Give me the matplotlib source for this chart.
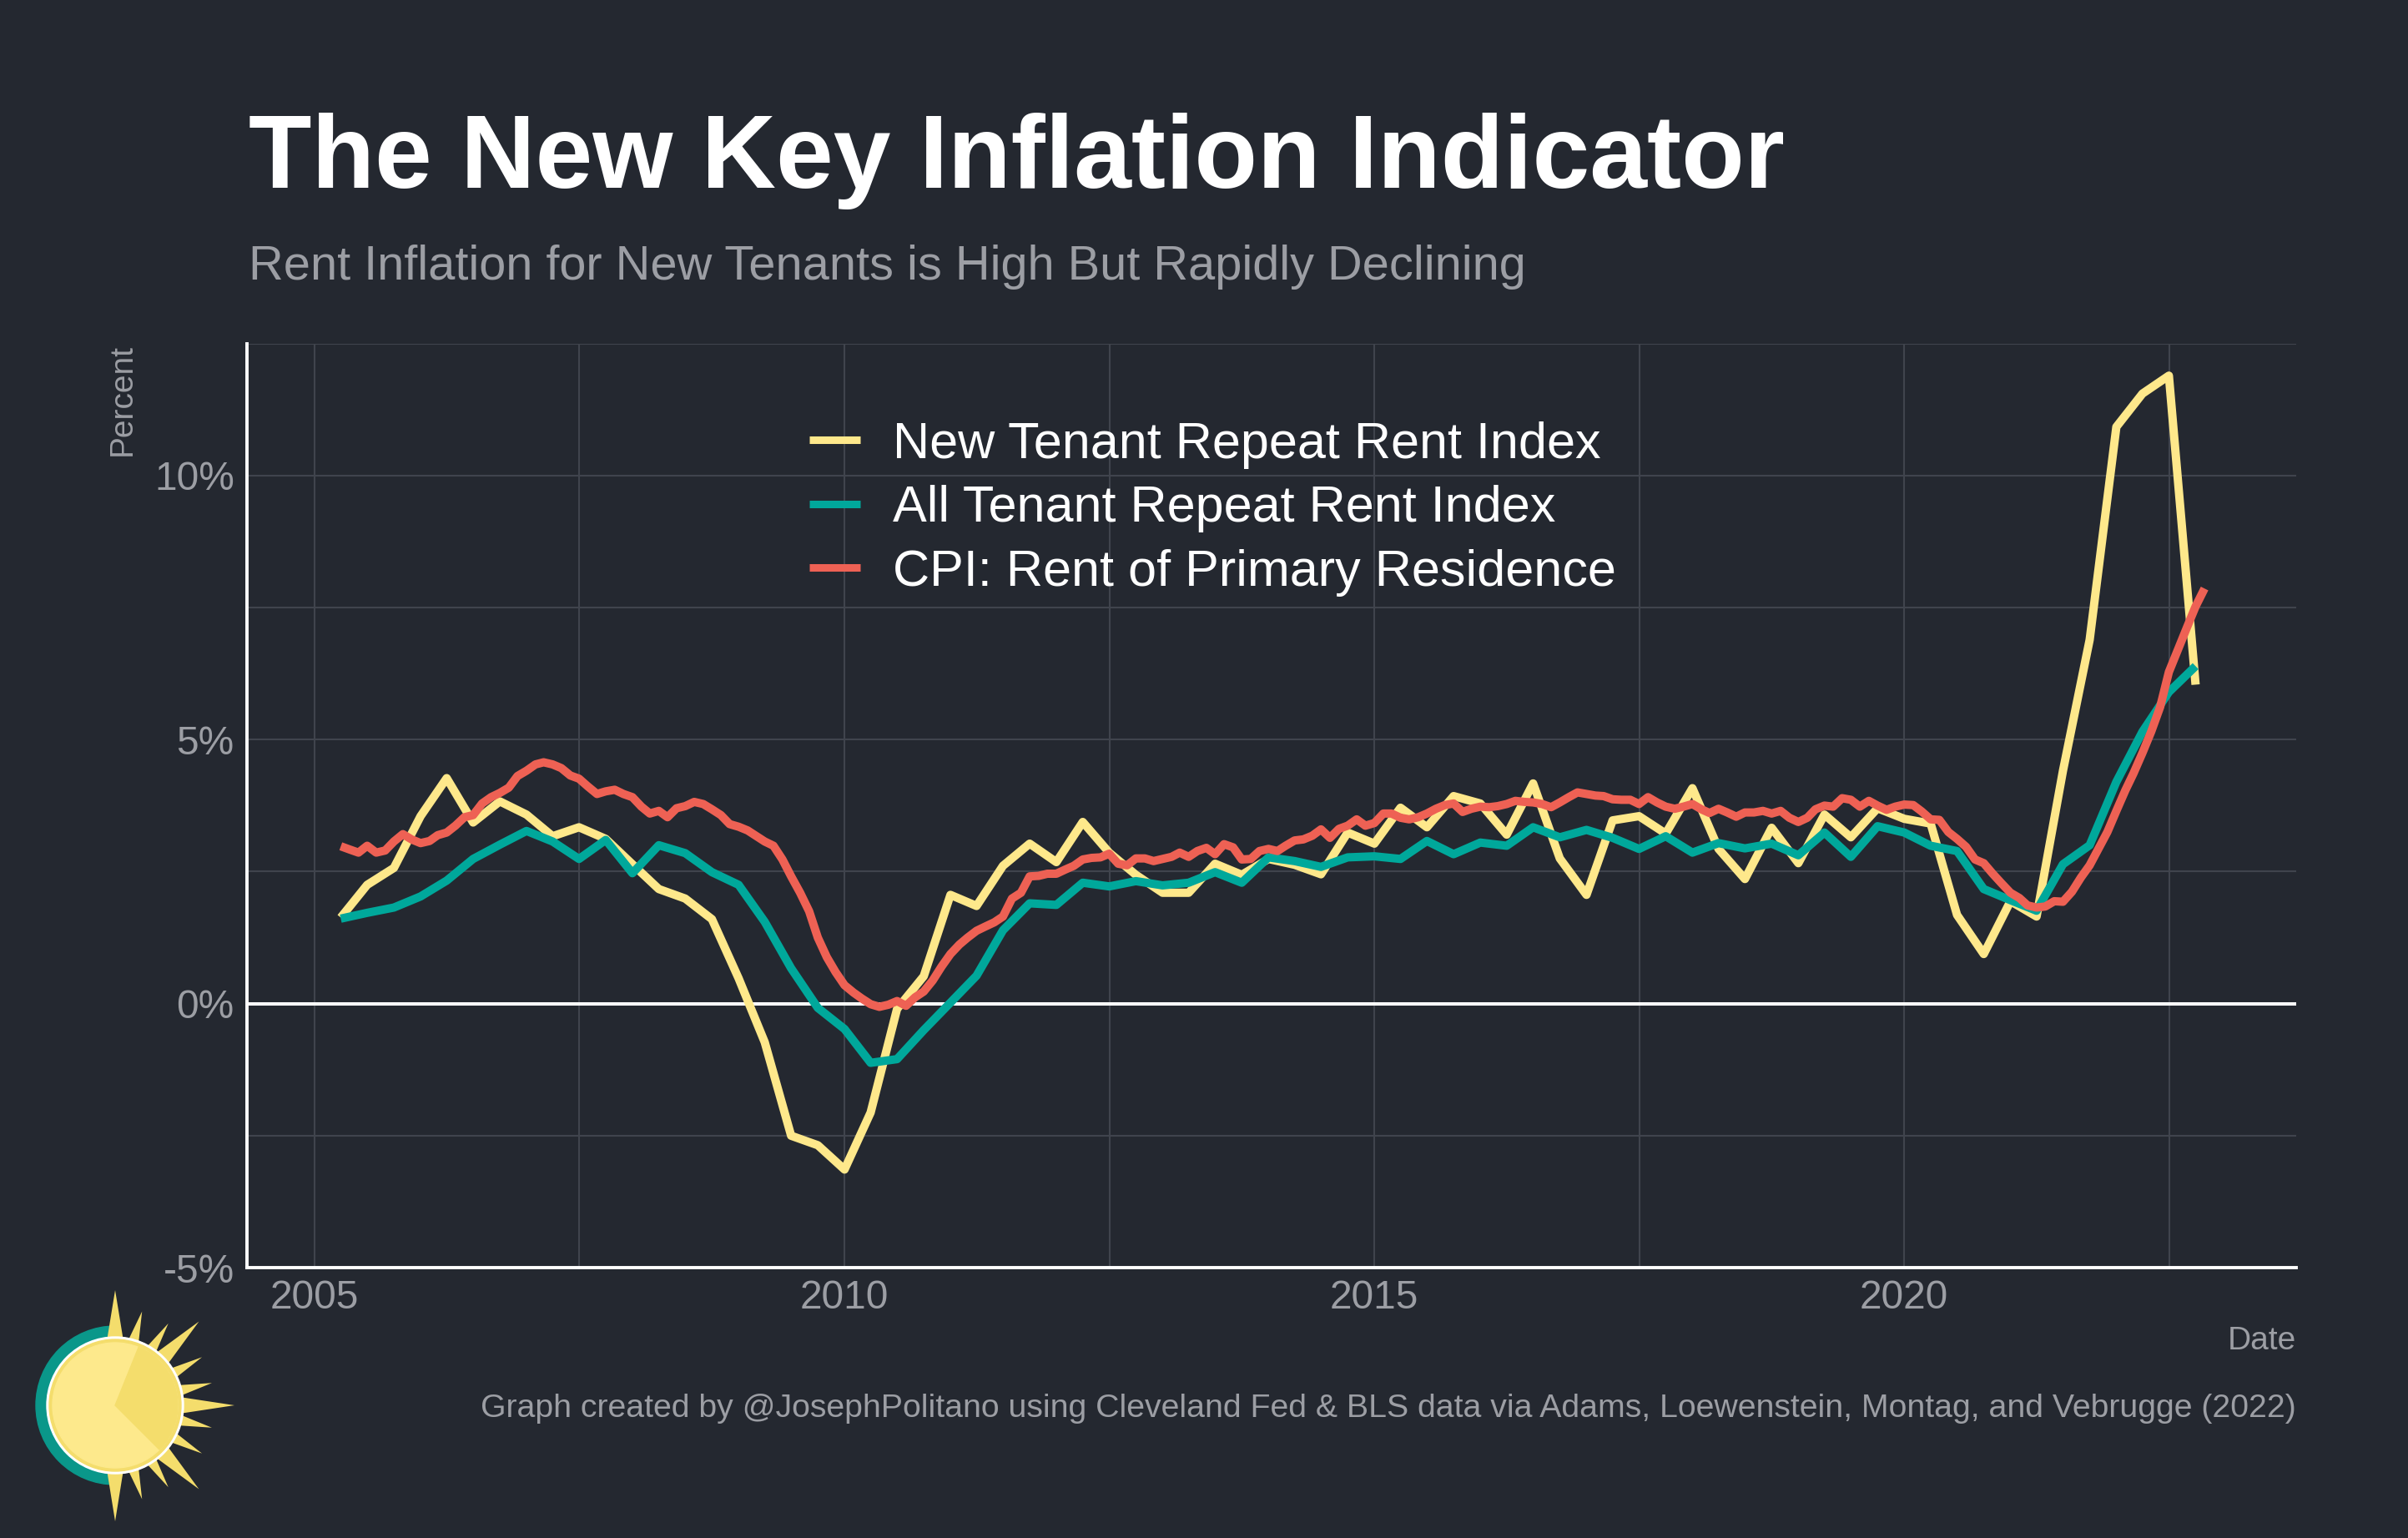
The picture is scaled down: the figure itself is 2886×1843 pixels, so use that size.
import numpy as np
import pandas as pd
import matplotlib
matplotlib.use('Agg')
import matplotlib.pyplot as plt
from matplotlib.patches import Circle, Wedge, Polygon

# quarterly series, Q2 2005 .. Q4 2022 (percent, y/y)
new_tenant = [1.63, 2.25, 2.57,
              3.55, 4.27, 3.43, 3.83,
              3.58, 3.17, 3.34, 3.12,
              2.64, 2.17, 1.99, 1.60,
              0.48, -0.73, -2.50, -2.68,
              -3.14, -2.06, -0.10, 0.52,
              2.06, 1.85, 2.61, 3.03,
              2.68, 3.44, 2.86, 2.44,
              2.10, 2.10, 2.65, 2.44,
              2.74, 2.63, 2.45, 3.24,
              3.03, 3.71, 3.34, 3.93,
              3.79, 3.20, 4.17, 2.75,
              2.06, 3.47, 3.55, 3.22,
              4.08, 2.93, 2.36, 3.33,
              2.66, 3.58, 3.15, 3.70,
              3.50, 3.41, 1.68, 0.94,
              1.94, 1.65, 4.41, 6.89,
              10.92, 11.55, 11.89, 6.04]

all_tenant = [1.61, 1.72, 1.82,
              2.03, 2.33, 2.74, 3.01,
              3.27, 3.07, 2.74, 3.10,
              2.47, 3.00, 2.85, 2.49,
              2.25, 1.55, 0.67, -0.08,
              -0.48, -1.12, -1.05, -0.50,
              0.02, 0.53, 1.39, 1.90,
              1.87, 2.29, 2.22, 2.32,
              2.24, 2.29, 2.49, 2.29,
              2.77, 2.70, 2.59, 2.77,
              2.79, 2.74, 3.08, 2.83,
              3.05, 2.99, 3.34, 3.15,
              3.29, 3.14, 2.93, 3.17,
              2.86, 3.04, 2.94, 3.03,
              2.81, 3.24, 2.78, 3.36,
              3.24, 2.99, 2.89, 2.17,
              1.96, 1.76, 2.64, 3.00,
              4.20, 5.15, 5.90, 6.39]

# monthly CPI rent of primary residence, Apr 2005 .. Nov 2022
cpi_rent = [2.98, 2.92, 2.86, 2.99, 2.86, 2.90, 3.07, 3.21, 3.11,
            3.04, 3.08, 3.19, 3.24, 3.37, 3.53, 3.57, 3.79, 3.91, 3.99, 4.09, 4.31,
            4.41, 4.53, 4.57, 4.53, 4.46, 4.32, 4.26, 4.11, 3.97, 4.02, 4.05, 3.97,
            3.91, 3.73, 3.60, 3.65, 3.53, 3.70, 3.74, 3.82, 3.78, 3.68, 3.57, 3.40,
            3.35, 3.28, 3.18, 3.07, 2.99, 2.73, 2.41, 2.10, 1.75, 1.25, 0.88, 0.60,
            0.35, 0.21, 0.10, -0.01, -0.06, -0.02, 0.05, -0.04, 0.12, 0.23, 0.44, 0.70,
            0.94, 1.12, 1.25, 1.38, 1.46, 1.54, 1.65, 1.99, 2.10, 2.41, 2.42, 2.46,
            2.46, 2.54, 2.61, 2.73, 2.76, 2.77, 2.84, 2.65, 2.62, 2.75, 2.75, 2.70,
            2.74, 2.78, 2.86, 2.78, 2.89, 2.95, 2.83, 3.02, 2.96, 2.73, 2.74, 2.89,
            2.93, 2.89, 2.99, 3.09, 3.11, 3.18, 3.30, 3.14, 3.31, 3.37, 3.49, 3.37,
            3.42, 3.60, 3.60, 3.52, 3.49, 3.53, 3.60, 3.69, 3.76, 3.79, 3.63, 3.69,
            3.73, 3.72, 3.74, 3.78, 3.84, 3.82, 3.81, 3.78, 3.72, 3.81, 3.91, 4.00,
            3.97, 3.94, 3.93, 3.87, 3.86, 3.86, 3.78, 3.91, 3.81, 3.73, 3.69, 3.73,
            3.78, 3.68, 3.61, 3.69, 3.62, 3.54, 3.62, 3.62, 3.65, 3.60, 3.65, 3.52,
            3.44, 3.52, 3.68, 3.75, 3.73, 3.89, 3.86, 3.73, 3.84, 3.75, 3.67, 3.73,
            3.77, 3.76, 3.64, 3.49, 3.48, 3.25, 3.12, 2.97, 2.73, 2.66, 2.46, 2.28,
            2.10, 2.00, 1.86, 1.82, 1.84, 1.94, 1.93, 2.12, 2.39, 2.62, 2.94, 3.25,
            3.65, 4.04, 4.36, 4.75, 5.15, 5.62, 6.28, 6.70, 7.12, 7.52, 7.86]

quarters = pd.date_range('2005-04-01', '2022-10-01', freq='QS')
months = pd.date_range('2005-04-01', '2022-11-01', freq='MS')

labels = ['New Tenant Repeat Rent Index', 'All Tenant Repeat Rent Index',
          'CPI: Rent of Primary Residence']
colors = ['#fee88b', '#00a89b', '#ee6154']

bg = '#242830'
grey = '#9c9ea4'
gridc = '#40444d'
font = 'Liberation Sans'
plt.rcParams['font.family'] = [font, 'DejaVu Sans']

fig = plt.figure(figsize=(28.86, 18.43), dpi=100, facecolor=bg)
ax = fig.add_axes([0.1026, 0.1757, 0.851, 0.601], facecolor=bg)

ax.plot(quarters, new_tenant, color=colors[0], lw=7.2, label=labels[0],
        solid_capstyle='butt', zorder=3)
ax.plot(quarters, all_tenant, color=colors[1], lw=7.2, label=labels[1],
        solid_capstyle='butt', zorder=4)
ax.plot(months, cpi_rent, color=colors[2], lw=7.2, label=labels[2],
        solid_capstyle='butt', zorder=5)
ax.axhline(0, color='white', lw=2.9, zorder=2)

ax.set_xlim(pd.Timestamp('2004-05-13'), pd.Timestamp('2023-09-13'))
ax.set_ylim(-5, 12.5)
ax.set_xticks([pd.Timestamp(y, 1, 1) for y in [2005, 2010, 2015, 2020]])
ax.set_xticklabels(['2005', '2010', '2015', '2020'])
ax.set_xticks([pd.Timestamp(y, 7, 2) for y in [2007, 2012, 2017, 2022]], minor=True)
ax.set_yticks([-5, 0, 5, 10])
ax.set_yticklabels(['-5%', '0%', '5%', '10%'])
ax.set_yticks([-2.5, 2.5, 7.5, 12.5], minor=True)
ax.grid(which='both', color=gridc, lw=1.5)
ax.set_axisbelow(True)
ax.tick_params(which='both', length=0, labelsize=34.5, labelcolor=grey)
ax.tick_params(axis='y', pad=11)
ax.tick_params(axis='x', pad=10)
for s in ['top', 'right']:
    ax.spines[s].set_visible(False)
for s in ['left', 'bottom']:
    ax.spines[s].set_color('white')
    ax.spines[s].set_linewidth(2.8)
    ax.spines[s].set_zorder(6)

leg = ax.legend(loc='upper left', bbox_to_anchor=(0.2744, 0.916), frameon=False,
                fontsize=44, handlelength=1.0, handletextpad=0.64, labelspacing=0.32,
                borderpad=0, borderaxespad=0)
for t in leg.get_texts():
    t.set_color('white')
for h in leg.legend_handles:
    h.set_linewidth(6.5)

fig.text(0.1033, 0.878, 'The New Key Inflation Indicator', color='white',
         fontsize=89, fontweight='bold', va='baseline', ha='left')
fig.text(0.1033, 0.818, 'Rent Inflation for New Tenants is High But Rapidly Declining',
         color=grey, fontsize=41.6, va='baseline', ha='left')
fig.text(0.051, 0.7765, 'Percent', color=grey, fontsize=28, rotation=90,
         va='top', ha='center')
fig.text(0.9536, 0.128, 'Date', color=grey, fontsize=28, va='center', ha='right')
fig.text(0.9536, 0.084, 'Graph created by @JosephPolitano using Cleveland Fed & BLS data '
         'via Adams, Loewenstein, Montag, and Vebrugge (2022)',
         color=grey, fontsize=28.3, va='center', ha='right')

# sun logo, drawn in pixel units around its centre
lax = fig.add_axes([(138 - 150) / 2886, (1843 - 1684 - 150) / 1843, 300 / 2886, 300 / 1843])
lax.set_xlim(-150, 150)
lax.set_ylim(-150, 150)
lax.axis('off')
lax.add_patch(Wedge((0, 0), 95, 90, 270, color='#0a978a'))
sun_dark = '#f4dd6c'
for ang, L, d in [(90, 138, 8), (45, 142, 8), (0, 143, 8), (-45, 142, 8), (-90, 139, 8),
                  (74, 117, 5.5), (57, 117, 5.5), (29, 119, 5.5), (13, 119, 5.5),
                  (-13, 119, 5.5), (-29, 119, 5.5), (-57, 117, 5.5), (-74, 117, 5.5)]:
    a = np.radians(ang)
    da = np.radians(d)
    pts = [(75 * np.cos(a - da), 75 * np.sin(a - da)), (L * np.cos(a), L * np.sin(a)),
           (75 * np.cos(a + da), 75 * np.sin(a + da))]
    lax.add_patch(Polygon(pts, closed=True, color=sun_dark, lw=0))
lax.add_patch(Circle((0, 0), 82, color='white'))
lax.add_patch(Circle((0, 0), 79, color=sun_dark))
lax.add_patch(Circle((0, 0), 75, color='#fde98c'))
lax.add_patch(Wedge((0, 0), 75, -45, 68, color=sun_dark))

fig.savefig('out.png', dpi=100, facecolor=bg)
